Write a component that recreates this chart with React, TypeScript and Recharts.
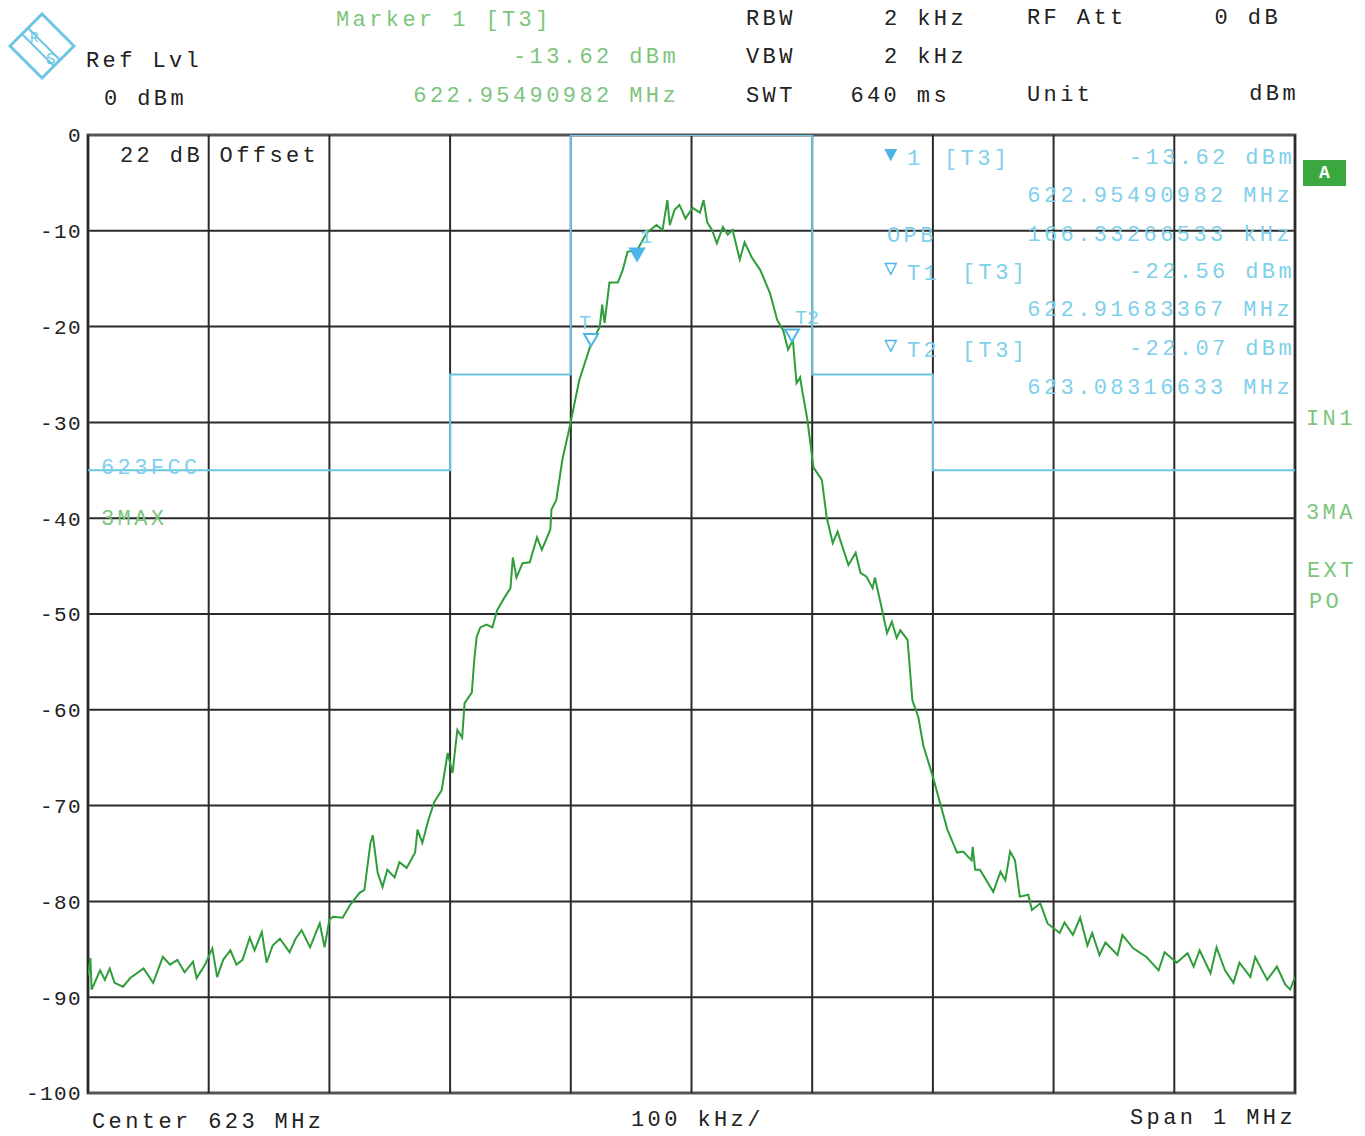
import { LineChart, Line, XAxis, YAxis, CartesianGrid, ReferenceDot, ReferenceArea, ReferenceLine } from 'recharts';

// trace: frequency offset from 623 MHz centre (kHz) and level (dBm)
const traceFreqKHz = [
  -500, -498, -497, -490, -486, -482, -478, -471, -465, -454, -446, -438, -432, -426, -420, -413,
  -410, -403, -397, -393, -388, -382, -377, -372, -366, -362, -356, -352, -347, -341, -333, -328,
  -323, -316, -311, -308, -304, -300, -297, -289, -283, -275, -271, -266, -264, -260, -256, -252,
  -246, -242, -236, -229, -227, -223, -218, -213, -207, -202, -198, -194, -190, -188, -182, -180,
  -178, -175, -170, -165, -161, -156, -150, -148, -145, -140, -134, -128, -124, -117, -116, -112,
  -107, -101, -93, -84, -76, -74, -72, -68, -61, -57, -53, -45, -37, -29, -24, -20,
  -18, -14, -10, -5, 1, 7, 10, 13, 17, 21, 26, 30, 34, 40, 44, 50,
  57, 65, 71, 76, 80, 84, 87, 90, 92, 96, 101, 108, 112, 117, 121, 130,
  136, 140, 145, 150, 152, 158, 162, 166, 170, 173, 179, 183, 188, 192, 200, 212,
  220, 225, 232, 233, 235, 239, 250, 256, 260, 264, 268, 272, 279, 282, 289, 295,
  305, 309, 316, 322, 328, 332, 338, 343, 353, 357, 366, 377, 387, 392, 402, 411,
  416, 421, 430, 435, 442, 449, 454, 463, 467, 477, 485, 492, 496, 500,
];
const traceLevelDbm = [
  -87.7, -85.9, -89.2, -87.2, -88.2, -87.0, -88.5, -88.9, -88.0, -87.0, -88.5, -85.8, -86.6, -86.1, -87.4, -86.3,
  -88.0, -86.6, -84.9, -87.9, -86.1, -85.1, -86.6, -86.1, -83.8, -85.1, -83.2, -86.4, -84.6, -83.9, -85.3, -83.9,
  -83.0, -84.8, -83.2, -82.3, -84.8, -81.9, -81.6, -81.7, -80.4, -79.1, -78.8, -73.9, -73.1, -77.0, -78.5, -76.7,
  -77.5, -75.9, -76.5, -74.9, -72.5, -73.9, -71.5, -69.6, -68.4, -64.5, -66.6, -62.1, -62.9, -59.3, -58.2, -54.8,
  -52.4, -51.4, -51.1, -51.4, -49.6, -48.5, -47.3, -44.1, -46.2, -44.7, -44.6, -42.0, -43.3, -41.2, -39.1, -38.1,
  -33.9, -30.5, -25.6, -22.1, -20.0, -17.7, -19.6, -15.4, -15.4, -14.1, -12.2, -12.0, -10.2, -9.4, -9.9, -6.8,
  -9.4, -7.8, -7.3, -8.7, -7.6, -8.1, -6.8, -9.1, -9.9, -11.3, -9.6, -10.4, -9.9, -13.0, -11.2, -12.8,
  -14.1, -16.5, -19.3, -20.4, -22.4, -21.4, -25.9, -25.3, -26.9, -29.7, -34.7, -36.0, -39.9, -42.6, -41.4, -44.9,
  -43.6, -45.7, -46.1, -47.3, -46.2, -49.6, -52.0, -50.8, -52.5, -51.7, -52.7, -59.0, -60.8, -63.7, -67.0, -72.5,
  -74.9, -74.8, -75.7, -74.3, -76.7, -76.7, -79.0, -76.9, -77.8, -74.8, -75.7, -79.5, -79.3, -80.9, -80.2, -82.3,
  -83.3, -82.2, -83.5, -81.7, -84.6, -83.3, -85.6, -84.3, -85.6, -83.5, -84.9, -85.8, -87.2, -85.3, -86.4, -85.4,
  -86.8, -85.1, -87.5, -84.8, -87.2, -88.5, -86.4, -87.9, -85.8, -88.2, -86.8, -88.7, -89.2, -87.9,
];

// 623FCC limit line
const maskFreqKHz = [-500, -200, -200, -100, -100, 100, 100, 200, 200, 500];
const maskLevelDbm = [-35, -35, -25, -25, 0, 0, -25, -25, -35, -35];

// markers 1, T1, T2
const markerNames = ['1', 'T', 'T2'];
const markerFreqKHz = [-45.1, -83.2, 83.2];
const markerLevelDbm = [-13.62, -22.56, -22.07];
const markerFilled = [true, false, false];

const xTicks = [-500, -400, -300, -200, -100, 0, 100, 200, 300, 400, 500];
const yTicks = [0, -10, -20, -30, -40, -50, -60, -70, -80, -90, -100];

const traceData = traceFreqKHz.map((f, i) => ({ f, level: traceLevelDbm[i] }));
const maskData = maskFreqKHz.map((f, i) => ({ f, mask: maskLevelDbm[i] }));

const FONT = '"Liberation Mono", "DejaVu Sans Mono", monospace';
const GREEN = '#7cc67c';
const BLUE = '#7fd0ea';
const DARK = '#222';
const GRID = '#2a2a2a';

function T({ x, y, right, color = DARK, children }: any) {
  const style: any = {
    position: 'absolute',
    top: y - 13,
    lineHeight: '26px',
    fontFamily: FONT,
    fontSize: 22,
    letterSpacing: 3.4,
    color,
    whiteSpace: 'pre',
  };
  if (right !== undefined) style.right = 1365 - right - 3;
  else style.left = x;
  return <div style={style}>{children}</div>;
}

function markerShape(i: number) {
  return (props: any) => {
    const { cx, cy } = props;
    const c = '#4db6e6';
    return (
      <g>
        <polygon
          points={`${cx - 7},${cy - 17} ${cx + 7},${cy - 17} ${cx},${cy - 5}`}
          fill={markerFilled[i] ? c : '#fff'}
          stroke={c}
          strokeWidth={2}
        />
        <text
          x={i === 1 ? cx - 6 : cx + 3}
          y={cy - 22}
          textAnchor={i === 1 ? 'middle' : 'start'}
          fontFamily={FONT}
          fontSize={20}
          fill={BLUE}
        >
          {markerNames[i]}
        </text>
      </g>
    );
  };
}

export default function App() {
  return (
    <div style={{ position: 'absolute', left: 0, top: 0, width: 1365, height: 1136, background: '#fff', overflow: 'hidden' }}>
      <LineChart
        width={1365}
        height={1136}
        data={traceData}
        margin={{ top: 135, right: 70, bottom: 42, left: 30 }}
      >
        <CartesianGrid stroke={GRID} strokeWidth={2} vertical={false} />
        <XAxis
          dataKey="f"
          type="number"
          domain={[-500, 500]}
          ticks={xTicks}
          tick={false}
          tickLine={false}
          axisLine={false}
          height={1}
          allowDataOverflow
        />
        <YAxis
          type="number"
          domain={[-100, 0]}
          ticks={yTicks}
          width={58}
          tickLine={false}
          axisLine={false}
          tick={{ fontFamily: FONT, fontSize: 21, fill: DARK, letterSpacing: 1.4 }}
          tickMargin={0}
          allowDataOverflow
        />
        {xTicks.map((t) => (
          <ReferenceLine key={t} x={t} stroke={GRID} strokeWidth={2} />
        ))}
        <Line
          data={maskData}
          dataKey="mask"
          type="linear"
          stroke="#6cc6e2"
          strokeWidth={2}
          dot={false}
          isAnimationActive={false}
        />
        <Line
          dataKey="level"
          type="linear"
          stroke="#2f9e3a"
          strokeWidth={2}
          dot={false}
          isAnimationActive={false}
        />
        <ReferenceArea x1={-500} x2={500} y1={-100} y2={0} fill="none" stroke="#555" strokeWidth={3} />
        {markerFreqKHz.map((f, i) => (
          <ReferenceDot key={i} x={f} y={markerLevelDbm[i]} r={6} shape={markerShape(i)} />
        ))}
      </LineChart>

      {/* R&S logo */}
      <svg style={{ position: 'absolute', left: 8, top: 12 }} width={68} height={68}>
        <polygon points="34,2 66,34 34,66 2,34" fill="none" stroke="#6cc6e2" strokeWidth={3} />
        <line x1="14" y1="22" x2="46" y2="54" stroke="#6cc6e2" strokeWidth={2} />
        <line x1="20" y1="16" x2="52" y2="48" stroke="#6cc6e2" strokeWidth={2} />
        <text x="22" y="30" fontFamily={FONT} fontSize={14} fill="#6cc6e2">R</text>
        <text x="38" y="52" fontFamily={FONT} fontSize={16} fill="#6cc6e2">S</text>
      </svg>

      {/* header */}
      <T x={336} y={21} color={GREEN}>Marker 1 [T3]</T>
      <T right={676} y={58} color={GREEN}>-13.62 dBm</T>
      <T right={676} y={97} color={GREEN}>622.95490982 MHz</T>
      <T x={86} y={62}>Ref Lvl</T>
      <T x={104} y={100}>0 dBm</T>
      <T x={746} y={20}>RBW</T>
      <T right={964} y={20}>2 kHz</T>
      <T x={746} y={58}>VBW</T>
      <T right={964} y={58}>2 kHz</T>
      <T x={746} y={97}>SWT</T>
      <T right={947} y={97}>640 ms</T>
      <T x={1027} y={19}>RF Att</T>
      <T right={1278} y={19}>0 dB</T>
      <T x={1027} y={96}>Unit</T>
      <T right={1296} y={95}>dBm</T>

      {/* inside plot */}
      <T x={120} y={157}>22 dB Offset</T>
      <T x={101} y={469} color={BLUE}>623FCC</T>
      <T x={101} y={520} color={GREEN}>3MAX</T>

      <T x={884} y={156} color="#4db6e6">▼</T>
      <T x={907} y={160} color={BLUE}>1</T>
      <T x={944} y={160} color={BLUE}>[T3]</T>
      <T right={1292} y={159} color={BLUE}>-13.62 dBm</T>
      <T right={1290} y={197} color={BLUE}>622.95490982 MHz</T>
      <T x={887} y={237} color={BLUE}>OPB</T>
      <T right={1290} y={236} color={BLUE}>166.33266533 kHz</T>
      <T x={884} y={270} color="#4db6e6">▽</T>
      <T x={907} y={275} color={BLUE}>T1</T>
      <T x={962} y={274} color={BLUE}>[T3]</T>
      <T right={1292} y={273} color={BLUE}>-22.56 dBm</T>
      <T right={1290} y={311} color={BLUE}>622.91683367 MHz</T>
      <T x={884} y={347} color="#4db6e6">▽</T>
      <T x={907} y={352} color={BLUE}>T2</T>
      <T x={962} y={352} color={BLUE}>[T3]</T>
      <T right={1292} y={350} color={BLUE}>-22.07 dBm</T>
      <T right={1290} y={389} color={BLUE}>623.08316633 MHz</T>

      {/* right side annotations */}
      <div
        style={{
          position: 'absolute', left: 1303, top: 160, width: 43, height: 26, background: '#3aa83f',
          color: '#fff', fontFamily: FONT, fontWeight: 'bold', fontSize: 18, textAlign: 'center', lineHeight: '26px',
        }}
      >
        A
      </div>
      <T x={1306} y={420} color={GREEN}>IN1</T>
      <T x={1306} y={514} color={GREEN}>3MA</T>
      <T x={1307} y={572} color={GREEN}>EXT</T>
      <T x={1309} y={603} color={GREEN}>PO</T>

      {/* footer */}
      <T x={92} y={1123}>Center 623 MHz</T>
      <T x={631} y={1121}>100 kHz/</T>
      <T right={1293} y={1119}>Span 1 MHz</T>
    </div>
  );
}
